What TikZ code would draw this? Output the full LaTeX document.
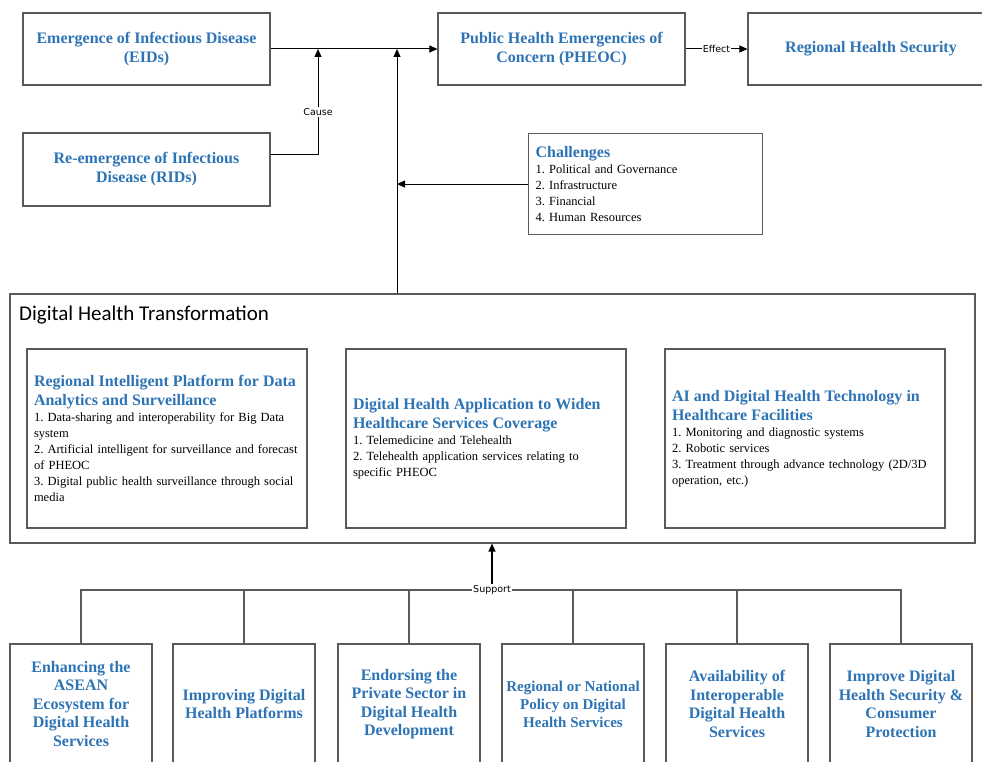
\documentclass[tikz,border=0pt]{standalone}
\usepackage{fontspec}
\setmainfont{Liberation Serif}
\newfontfamily\titlefont{Carlito}
\newfontfamily\tagfont{DejaVu Sans}
\usetikzlibrary{arrows.meta}
\frenchspacing

\definecolor{hblue}{RGB}{46,116,181}
\definecolor{edge}{RGB}{90,90,90}

\tikzset{
    box/.style={draw=edge, line width=1.1pt, fill=white, inner sep=0pt},
    headtext/.style={text=hblue, font=\bfseries\fontsize{16}{19}\selectfont, align=center},
    pillar/.style={box, minimum width=280pt, minimum height=179pt, text width=266pt,
        align=left, font=\fontsize{12.5}{16}\selectfont},
    aim/.style={box, headtext, minimum width=142pt, minimum height=120pt,
        font=\bfseries\fontsize{16}{18.5}\selectfont},
    tag/.style={fill=white, inner sep=1pt, font=\tagfont\fontsize{9.5}{10}\selectfont},
    link/.style={line width=1pt, -{Triangle[length=8pt,width=7pt]}}
}

\begin{document}
\begin{tikzpicture}[x=1pt, y=-1pt]
            \useasboundingbox[fill=white] (0,0) rectangle (982,762);
            \clip (0,0) rectangle (982,762);
            % top row
            \node[box, headtext, minimum width=247pt, minimum height=72pt] (eid) at (146.5,49) {Emergence of Infectious Disease\\(EIDs)};
            \node[box, headtext, minimum width=247pt, minimum height=72pt] (pheoc) at (561.5,49) {Public Health Emergencies of\\Concern (PHEOC)};
            \node[box, headtext, minimum width=246pt, minimum height=72pt] (rhs) at (871,49) {Regional Health Security};
            \node[box, headtext, minimum width=247pt, minimum height=73pt] (rid) at (146.5,169.5) {Re-emergence of Infectious\\Disease (RIDs)};
            \node[box, anchor=north west, minimum width=234pt, minimum height=101pt, text width=220pt,
                inner xsep=7pt, align=left, font=\fontsize{12.5}{16}\selectfont] (chal) at (528,133)
                {{\color{hblue}\bfseries\fontsize{16}{17}\selectfont Challenges}\\
                 1. Political and Governance\\
                 2. Infrastructure\\
                 3. Financial\\
                 4. Human Resources};
            \coordinate (cjoin) at (318,49);
            \coordinate (djoin) at (397,49);
            % digital health transformation
            \node[box, minimum width=965pt, minimum height=249pt] (dht) at (492.5,418.5) {};
            \node[anchor=west, inner sep=0pt, font=\titlefont\fontsize{21}{23}\selectfont] (dhtname) at (19,315) {Digital Health Transformation};
            \node[pillar] (p1) at (167,438.5)
                {{\color{hblue}\bfseries\fontsize{16}{19.5}\selectfont Regional Intelligent Platform for Data\\[3pt]Analytics and Surveillance}\\
                 1. Data-sharing and interoperability for Big Data\\system\\
                 2. Artificial intelligent for surveillance and forecast\\of PHEOC\\
                 3. Digital public health surveillance through social\\media};
            \node[pillar] (p2) at (486,438.5)
                {{\color{hblue}\bfseries\fontsize{16}{19.5}\selectfont Digital Health Application to Widen\\[3pt]Healthcare Services Coverage}\\
                 1. Telemedicine and Telehealth\\
                 2. Telehealth application services relating to\\specific PHEOC};
            \node[pillar] (p3) at (805,438.5)
                {{\color{hblue}\bfseries\fontsize{16}{19.5}\selectfont AI and Digital Health Technology in\\[3pt]Healthcare Facilities}\\
                 1. Monitoring and diagnostic systems\\
                 2. Robotic services\\
                 3. Treatment through advance technology (2D/3D\\operation, etc.)};
            % supporting areas
            \node[aim] (a1) at (81,704) {Enhancing the\\ASEAN\\Ecosystem for\\Digital Health\\Services};
            \node[aim] (a2) at (244,704) {Improving Digital\\Health Platforms};
            \node[aim] (a3) at (409,704) {Endorsing the\\Private Sector in\\Digital Health\\Development};
            \node[aim, font=\bfseries\fontsize{15}{18}\selectfont] (a4) at (573,704) {Regional or National\\Policy on Digital\\Health Services};
            \node[aim] (a5) at (737,704) {Availability of\\Interoperable\\Digital Health\\Services};
            \node[aim] (a6) at (901,704) {Improve Digital\\Health Security \&\\Consumer\\Protection};
            \coordinate (hub) at (492,590);
            % connectors
            \draw[link] (eid.east) -- (pheoc.west);
            \draw[link] (pheoc.east) -- node[tag] (effect) {Effect} (rhs.west);
            \draw[link] ([yshift=14.5pt]rid.east) -| (cjoin);
            \node[tag] (cause) at (318,112) {Cause};
            \draw[link] (dht.north -| djoin) -- (djoin);
            \draw[link] (chal.west) -- (chal.west -| djoin);
            \draw[line width=1.1pt, edge] (a1.north) |- (hub) -| (a6.north);
            \foreach \k in {2,...,5}
                \draw[line width=1.1pt, edge] (a\k.north) -- (a\k.north |- hub);
            \draw[link, line width=1.4pt] (hub) -- (dht.south -| hub);
            \node[tag] (support) at (hub) {Support};
        \end{tikzpicture}
\end{document}
